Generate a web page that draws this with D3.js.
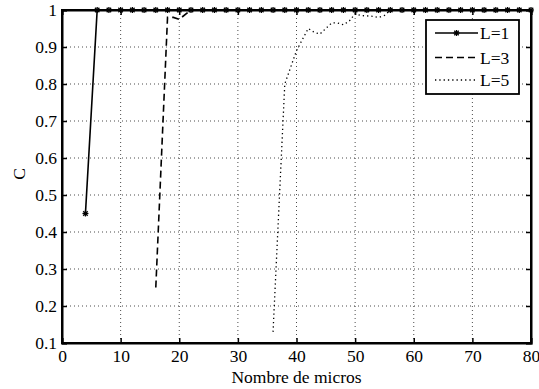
<!DOCTYPE html>
<html><head><meta charset="utf-8">
<script src="https://cdn.jsdelivr.net/npm/d3@7"></script>
<style>body{margin:0;background:#fff}svg{display:block}</style>
</head><body><svg id="c" width="539" height="389"></svg>
<script>
const xTicks = [0,10,20,30,40,50,60,70,80];
const yTicks = [0.1,0.2,0.3,0.4,0.5,0.6,0.7,0.8,0.9,1];
const l1X = d3.range(4, 81, 2);
const l1Y = l1X.map(x => x === 4 ? 0.45 : 1);
const l3X = [16,18,19,20,22,24,26,28,30,32,34,36,38,40,42,44,46,48,50,52,54,56,58,60,62,64,66,68,70,72,74,76,78,80];
const l3Y = [0.25,0.98,0.98,0.975,1,1,1,1,1,1,1,1,1,1,1,1,1,1,1,1,1,1,1,1,1,1,1,1,1,1,1,1,1,1];
const l5X = [36,38,40,41,42,43,44,45,46,47,48,49,50,51,53,54,55,56,58,60,62,64,66,68,70,72,74,76,78,80];
const l5Y = [0.13,0.80,0.89,0.92,0.95,0.94,0.935,0.95,0.965,0.965,0.96,0.97,0.99,0.985,0.983,0.98,0.985,1,1,1,1,1,1,1,1,1,1,1,1,1];
const seriesNames = ["L=1","L=3","L=5"];
const FONT = "'Liberation Serif', 'Times New Roman', serif";
const FS = 17.5;

const svg = d3.select("#c");
const m = {l:62, r:531, t:10, b:343};
const x = d3.scaleLinear().domain([0,80]).range([m.l, m.r]);
const y = d3.scaleLinear().domain([0.1,1]).range([m.b, m.t]);

// grid
const g = svg.append("g");
g.selectAll(".gx").data(xTicks.slice(1,-1)).join("line")
  .attr("x1", d=>x(d)).attr("x2", d=>x(d)).attr("y1", m.t).attr("y2", m.b)
  .attr("stroke","#000").attr("stroke-width",1).attr("stroke-dasharray","1,3").attr("opacity",0.7);
g.selectAll(".gy").data(yTicks.slice(1,-1)).join("line")
  .attr("y1", d=>y(d)).attr("y2", d=>y(d)).attr("x1", m.l).attr("x2", m.r)
  .attr("stroke","#000").attr("stroke-width",1).attr("stroke-dasharray","1,3").attr("opacity",0.7);

// lines
const line = d3.line().x(d=>x(d[0])).y(d=>y(d[1]));
const p1 = l1X.map((v,i)=>[v,l1Y[i]]);
const p3 = l3X.map((v,i)=>[v,l3Y[i]]);
const p5 = l5X.map((v,i)=>[v,l5Y[i]]);
svg.append("path").attr("d", line(p5)).attr("fill","none").attr("stroke","#000").attr("stroke-width",1.3).attr("stroke-dasharray","1.3,3");
svg.append("path").attr("d", line(p3)).attr("fill","none").attr("stroke","#000").attr("stroke-width",1.6).attr("stroke-dasharray","7,4");
svg.append("path").attr("d", line(p1)).attr("fill","none").attr("stroke","#000").attr("stroke-width",1.6);

function drawStar(sel, cx, cy){
  const s = 3;
  const gg = sel.append("g").attr("transform",`translate(${cx},${cy})`).attr("stroke","#000").attr("stroke-width",1.3);
  gg.append("line").attr("x1",-s).attr("x2",s).attr("y1",0).attr("y2",0);
  gg.append("line").attr("x1",0).attr("x2",0).attr("y1",-s).attr("y2",s);
  gg.append("line").attr("x1",-s*0.75).attr("x2",s*0.75).attr("y1",-s*0.75).attr("y2",s*0.75);
  gg.append("line").attr("x1",-s*0.75).attr("x2",s*0.75).attr("y1",s*0.75).attr("y2",-s*0.75);
}
const mk = svg.append("g");
p1.forEach(d => drawStar(mk, x(d[0]), y(d[1])));

// axes
const ax = svg.append("g");
ax.append("g").attr("transform",`translate(0,${m.b})`)
  .call(d3.axisBottom(x).tickValues(xTicks).tickSize(-5).tickPadding(7).tickFormat(d3.format("d")));
ax.append("g").attr("transform",`translate(0,${m.t})`)
  .call(d3.axisTop(x).tickValues(xTicks).tickSize(-5).tickFormat(""));
ax.append("g").attr("transform",`translate(${m.l},0)`)
  .call(d3.axisLeft(y).tickValues(yTicks).tickSize(-5).tickPadding(5).tickFormat(d=>d===1?"1":d3.format(".1f")(d)));
ax.append("g").attr("transform",`translate(${m.r},0)`)
  .call(d3.axisRight(y).tickValues(yTicks).tickSize(-5).tickFormat(""));
ax.selectAll(".domain").attr("stroke","#000").attr("stroke-width",2);
ax.selectAll(".tick line").attr("stroke","#000").attr("stroke-width",1.5);
ax.selectAll(".tick text").attr("font-size",FS).attr("fill","#000");
svg.append("rect").attr("x",m.l).attr("y",m.t).attr("width",m.r-m.l).attr("height",m.b-m.t)
  .attr("fill","none").attr("stroke","#000").attr("stroke-width",2);

svg.append("text").attr("x",(m.l+m.r)/2).attr("y",382.5).attr("text-anchor","middle").attr("font-size",FS).text("Nombre de micros");
svg.append("text").attr("transform",`translate(25,174) rotate(-90)`).attr("text-anchor","middle").attr("font-size",FS).text("C");

// legend
const lg = svg.append("g");
lg.append("rect").attr("x",426).attr("y",20).attr("width",93).attr("height",74).attr("fill","#fff").attr("stroke","#000").attr("stroke-width",1.8);
const ly = [33, 57.5, 80];
const dash = [null, "7,4", "1.3,3"];
seriesNames.forEach((n,i)=>{
  lg.append("line").attr("x1",435).attr("x2",478).attr("y1",ly[i]).attr("y2",ly[i])
    .attr("stroke","#000").attr("stroke-width",i===2?1.3:1.6).attr("stroke-dasharray",dash[i]);
  lg.append("text").attr("x",480).attr("y",ly[i]+6).attr("font-size",FS).text(n);
});
drawStar(lg, 456.5, ly[0]);

svg.selectAll("text").attr("font-family", FONT).style("font-family", FONT).attr("fill","#000");
svg.selectAll("g").filter(function(){return this.hasAttribute("font-family");}).attr("font-family", FONT);
</script></body></html>
